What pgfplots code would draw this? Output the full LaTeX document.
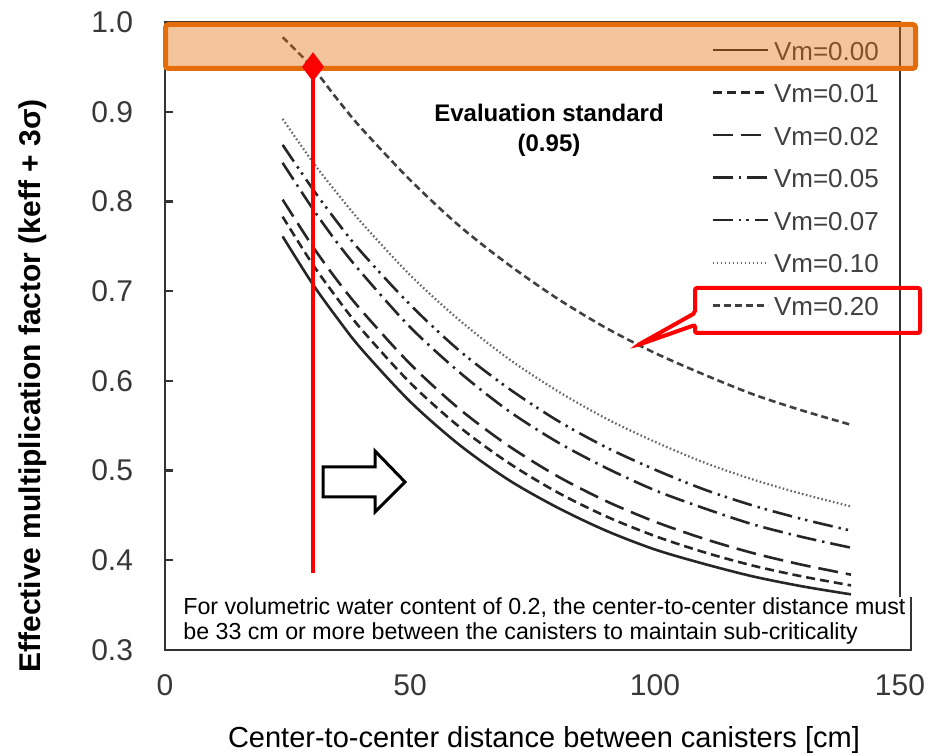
\documentclass[border=0pt]{standalone}
\usepackage{pgfplots}
\pgfplotsset{compat=1.18}
\usepackage{pgfplotstable}
\usepackage{fontspec}
\setmainfont{Liberation Sans}

\definecolor{bandorange}{RGB}{228,108,10}
\definecolor{legtext}{RGB}{64,64,64}

\pgfplotstableread{
x v00 v01 v02 v05 v07 v10 v20
24 0.761 0.783 0.802 0.843 0.863 0.892 0.983
30 0.709 0.731 0.751 0.793 0.815 0.845 0.950
35 0.671 0.693 0.713 0.755 0.778 0.810 0.915
40 0.636 0.658 0.679 0.721 0.744 0.777 0.882
50 0.577 0.598 0.619 0.660 0.685 0.718 0.824
60 0.529 0.549 0.569 0.610 0.634 0.668 0.773
70 0.490 0.509 0.528 0.567 0.592 0.625 0.730
80 0.459 0.476 0.494 0.532 0.556 0.589 0.692
90 0.433 0.449 0.466 0.503 0.526 0.558 0.659
100 0.412 0.427 0.443 0.478 0.501 0.532 0.631
110 0.396 0.409 0.424 0.458 0.479 0.509 0.607
120 0.382 0.394 0.408 0.440 0.461 0.490 0.585
130 0.371 0.382 0.395 0.426 0.446 0.474 0.567
140 0.362 0.372 0.384 0.414 0.433 0.460 0.551
}\datatable

\pgfplotstableread{
x y
30.2 0.950
30.2 0.386
}\redline

\begin{document}
\begin{tikzpicture}[x=0.5bp,y=0.5bp]
\useasboundingbox (0,0) rectangle (936,756);
\begin{axis}[
  at={(82.5bp,53bp)}, anchor=south west,
  scale only axis, width=367.5bp, height=314bp,
  xmin=0, xmax=150, ymin=0.3, ymax=1.0,
  xtick={0,50,100,150},
  ytick={0.3,0.4,0.5,0.6,0.7,0.8,0.9,1.0},
  tick align=inside, major tick length=4bp,
  xtick pos=left, ytick pos=left,
  axis line style={black!80, line width=1.2bp},
  every tick/.style={black!80, line width=1.2bp},
  /pgf/number format/assume math mode=true,
  tick label style={font=\fontsize{15bp}{18bp}\selectfont, text=black!78},
  yticklabel style={/pgf/number format/.cd, fixed, fixed zerofill, precision=1, /tikz/.cd, xshift=-12.5bp},
  xticklabel style={yshift=-9bp},
  xlabel={Center-to-center distance between canisters [cm]},
  xlabel style={at={(axis description cs:0.5156,-0.1433)}, anchor=center, font=\fontsize{14.5bp}{17bp}\selectfont},
  ylabel={Effective multiplication factor (keff + 3σ)},
  ylabel style={at={(axis description cs:-0.1796,0.4204)}, anchor=center, font=\bfseries\fontsize{15bp}{18bp}\selectfont},
  legend style={at={(axis description cs:0.7347,0.978)}, anchor=north west, draw=none, fill=none,
    font=\fontsize{13bp}{15bp}\selectfont, text=legtext, row sep=8.25bp, column sep=2.5bp,
    nodes={inner sep=0pt, text height=10bp, text depth=3bp}},
  legend cell align=left,
  legend image code/.code={\draw[#1] (0bp,1.5bp) -- (27.5bp,1.5bp);},
  clip=false,
]
\addplot[smooth, black!85, line width=1.3bp] table[x=x,y=v00] {\datatable};
\addlegendentry{Vm=0.00}
\addplot[smooth, black!85, line width=1.3bp, dash pattern=on 4.5bp off 2.5bp] table[x=x,y=v01] {\datatable};
\addlegendentry{Vm=0.01}
\addplot[smooth, black!85, line width=1.3bp, dash pattern=on 10bp off 4bp] table[x=x,y=v02] {\datatable};
\addlegendentry{Vm=0.02}
\addplot[smooth, black!85, line width=1.3bp, dash pattern=on 10bp off 3bp on 1.2bp off 3bp] table[x=x,y=v05] {\datatable};
\addlegendentry{Vm=0.05}
\addplot[smooth, black!85, line width=1.3bp, dash pattern=on 10bp off 3bp on 1.2bp off 2.5bp on 1.2bp off 3bp] table[x=x,y=v07] {\datatable};
\addlegendentry{Vm=0.07}
\addplot[smooth, black!60, line width=1.1bp, dash pattern=on 0.8bp off 1.2bp] table[x=x,y=v10] {\datatable};
\addlegendentry{Vm=0.10}
\addplot[smooth, black!75, line width=1.3bp, dash pattern=on 3.5bp off 2bp] table[x=x,y=v20] {\datatable};
\addlegendentry{Vm=0.20}
\end{axis}

% text box at the bottom
\fill[white] (166,107.2) rectangle (911,159);
\draw[black!80, line width=1bp] (911,159) -- (911,106) -- (165,106);
\node[anchor=base west, inner sep=0pt, font=\fontsize{11.6bp}{12.5bp}\selectfont] at (183,141)
  {For volumetric water content of 0.2, the center-to-center distance must};
\node[anchor=base west, inner sep=0pt, font=\fontsize{11.6bp}{12.5bp}\selectfont] at (183,116)
  {be 33 cm or more between the canisters to maintain sub-criticality};

% orange band
\draw[bandorange, line width=2.5bp, fill=bandorange, fill opacity=0.4, rounded corners=1.5bp]
  (165.5,731.5) rectangle (915.5,687.5);

% evaluation standard text
\node[anchor=base, inner sep=0pt, font=\bfseries\fontsize{12bp}{15bp}\selectfont] at (549,634) {Evaluation standard};
\node[anchor=base, inner sep=0pt, font=\bfseries\fontsize{12bp}{15bp}\selectfont] at (549,604) {(0.95)};

% red callout
\draw[red, line width=2bp, rounded corners=1bp]
  (695,468) -- (920,468) -- (920,423) -- (695,423) -- (695,431) -- (638,411) -- (695,443) -- cycle;

% hollow arrow
\draw[black, line width=1.5bp, fill=white, line join=miter]
  (323,289) -- (375,289) -- (375,305) -- (405,274) -- (375,244) -- (375,259) -- (323,259) -- cycle;

% red line and diamond marker on top
\begin{axis}[
  at={(82.5bp,53bp)}, anchor=south west,
  scale only axis, width=367.5bp, height=314bp,
  xmin=0, xmax=150, ymin=0.3, ymax=1.0,
  hide axis, clip=false,
]
\addplot[red, line width=2bp, no marks] table[x=x,y=y] {\redline};
\addplot[red, only marks, mark=diamond*, mark size=7bp, mark options={fill=red, draw=red}] coordinates {(30.2,0.950)};
\end{axis}
\end{tikzpicture}
\end{document}
